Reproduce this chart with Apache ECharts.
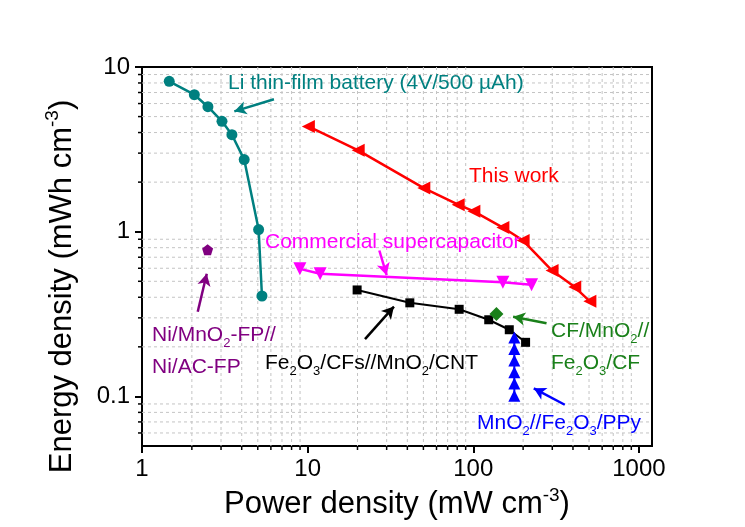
<!DOCTYPE html>
<html>
<head>
<meta charset="utf-8">
<script src="https://cdn.jsdelivr.net/npm/echarts@6/dist/echarts.min.js"></script>
<style>
html,body{margin:0;padding:0;background:#fff;}
#c{width:745px;height:527px;}
</style>
</head>
<body>
<div id="c"></div>
<script>
// ---- data (power density mW cm^-3, energy density mWh cm^-3) ----
const liBatteryP = [1.46, 2.07, 2.50, 3.04, 3.49, 4.14, 5.06, 5.30];
const liBatteryE = [8.19, 6.79, 5.74, 4.68, 3.88, 2.74, 1.03, 0.407];

const thisWorkP = [10.1, 20.2, 50.3, 81.1, 100.9, 151, 200, 299, 410, 506];
const thisWorkE = [4.36, 3.12, 1.84, 1.46, 1.33, 1.06, 0.884, 0.581, 0.461, 0.378];

const commercialP = [8.98, 11.9, 151, 225];
const commercialE = [0.595, 0.555, 0.493, 0.477];

const fe2o3CntP = [19.9, 41.4, 82.2, 124, 165, 207];
const fe2o3CntE = [0.443, 0.370, 0.338, 0.292, 0.254, 0.213];

const cfMnO2P = [138];
const cfMnO2E = [0.317];

const ppyP = [177, 177, 177, 177, 177, 177];
const ppyE = [0.228, 0.194, 0.165, 0.140, 0.120, 0.101];

const niFpP = [2.49];
const niFpE = [0.776];

const xMajorTicks = [1, 10, 100, 1000];
const yMajorTicks = [0.1, 1, 10];
const xMinorTicks = [2,3,4,5,6,7,8,9,20,30,40,50,60,70,80,90,200,300,400,500,600,700,800,900];
const yMinorTicks = [0.06,0.07,0.08,0.09,0.2,0.3,0.4,0.5,0.6,0.7,0.8,0.9,2,3,4,5,6,7,8,9];

// ---- helpers ----
const FONT = '"Liberation Sans", Arial, sans-serif';
const zip = (a, b) => a.map((v, i) => [v, b[i]]);

function richText(str) {
  // '_d' -> subscript digit
  let out = '';
  let buf = '';
  for (let i = 0; i < str.length; i++) {
    if (str[i] === '_') {
      if (buf) { out += '{a|' + buf + '}'; buf = ''; }
      out += '{s|' + str[i + 1] + '}';
      i++;
    } else buf += str[i];
  }
  if (buf) out += '{a|' + buf + '}';
  return out;
}

function annot(x, y, str, color) {
  return {
    type: 'text', x: x, y: y, z: 100, silent: true,
    style: {
      text: richText(str), fill: color, verticalAlign: 'middle', align: 'left',
      rich: {
        a: { fontSize: 21, fontFamily: FONT, fill: color, lineHeight: 30 },
        s: { fontSize: 13, fontFamily: FONT, fill: color, lineHeight: 13, verticalAlign: 'bottom' }
      }
    }
  };
}

function arrow(color, from, to) {
  return {
    silent: true, symbol: ['none', 'arrow'], symbolSize: [10, 12], animation: false,
    lineStyle: { color: color, width: 2.5, type: 'solid' },
    label: { show: false }, emphasis: { disabled: true },
    data: [[{ coord: from }, { coord: to }]]
  };
}

function lineSeries(name, P, E, color, symbol, size, rot, lw, extra) {
  return Object.assign({
    name: name, type: 'line', data: zip(P, E),
    symbol: symbol, symbolSize: size, symbolRotate: rot,
    showSymbol: true, z: 3,
    lineStyle: { color: color, width: lw },
    itemStyle: { color: color, borderWidth: 0 },
    emphasis: { disabled: true }
  }, extra || {});
}

const gridLineStyle = { stroke: '#c4c4c4', lineWidth: 1, lineDash: [3, 3] };

const chart = echarts.init(document.getElementById('c'), null, { renderer: 'canvas' });
chart.setOption({
  animation: false,
  backgroundColor: '#ffffff',
  grid: { left: 142, top: 67, width: 510, height: 379, show: true, borderColor: '#000', borderWidth: 2, backgroundColor: 'transparent' },
  xAxis: {
    type: 'log', logBase: 10, min: 1, max: 1200,
    axisLine: { show: true, lineStyle: { color: '#000', width: 2 } },
    axisTick: { show: true, inside: false, length: 7, lineStyle: { color: '#000', width: 2 }, customValues: xMajorTicks },
    axisLabel: { customValues: xMajorTicks, fontSize: 24, fontFamily: FONT, color: '#000', margin: 11, formatter: v => String(v) },
    splitLine: { show: false },
    name: '{a|Power density (mW cm}{s|-3}{a|)}',
    nameLocation: 'middle', nameGap: 31,
    nameTextStyle: { rich: {
      a: { fontSize: 31, fontFamily: FONT, color: '#000', lineHeight: 38 },
      s: { fontSize: 19, fontFamily: FONT, color: '#000', lineHeight: 19, verticalAlign: 'top' }
    } }
  },
  yAxis: {
    type: 'log', logBase: 10, min: 0.05, max: 10,
    axisLine: { show: true, lineStyle: { color: '#000', width: 2 } },
    axisTick: { show: true, inside: false, length: 7, lineStyle: { color: '#000', width: 2 }, customValues: yMajorTicks },
    axisLabel: { customValues: yMajorTicks, fontSize: 24, fontFamily: FONT, color: '#000', margin: 12, formatter: v => String(v) },
    splitLine: { show: false },
    name: '{a|Energy density (mWh cm}{s|-3}{a|)}{p| }',
    nameLocation: 'middle', nameGap: 61, nameRotate: 90,
    nameTextStyle: { rich: {
      a: { fontSize: 31, fontFamily: FONT, color: '#000', lineHeight: 38 },
      s: { fontSize: 19, fontFamily: FONT, color: '#000', lineHeight: 19, verticalAlign: 'top' },
      p: { fontSize: 10, width: 60, lineHeight: 10 }
    } }
  },
  series: [
    {
      type: 'custom', coordinateSystem: 'cartesian2d', silent: true, clip: false, z: 1,
      data: xMinorTicks.map(v => [v, 1]), encode: { x: 0, y: 1 },
      renderItem: function (params, api) {
        const cs = params.coordSys;
        const x = api.coord([api.value(0), 1])[0];
        const yb = cs.y + cs.height;
        return { type: 'group', children: [
          { type: 'line', shape: { x1: x, y1: cs.y, x2: x, y2: yb }, style: gridLineStyle },
          { type: 'line', shape: { x1: x, y1: yb, x2: x, y2: yb + 4 }, style: { stroke: '#000', lineWidth: 1.5 } }
        ] };
      }
    },
    {
      type: 'custom', coordinateSystem: 'cartesian2d', silent: true, clip: false, z: 1,
      data: yMinorTicks.map(v => [1, v]), encode: { x: 0, y: 1 },
      renderItem: function (params, api) {
        const cs = params.coordSys;
        const y = api.coord([1, api.value(1)])[1];
        return { type: 'group', children: [
          { type: 'line', shape: { x1: cs.x, y1: y, x2: cs.x + cs.width, y2: y }, style: gridLineStyle },
          { type: 'line', shape: { x1: cs.x - 4, y1: y, x2: cs.x, y2: y }, style: { stroke: '#000', lineWidth: 1.5 } }
        ] };
      }
    },
    lineSeries('Li thin-film battery', liBatteryP, liBatteryE, '#008080', 'circle', 11, 0, 2.5,
      { markLine: arrow('#008080', [6.26, 6.37], [3.61, 5.38]) }),
    lineSeries('This work', thisWorkP, thisWorkE, '#ff0000', 'triangle', 13, 90, 2.5),
    lineSeries('Commercial supercapacitor', commercialP, commercialE, '#ff00ff', 'triangle', 13, 180, 2.5,
      { markLine: arrow('#ff00ff', [27.1, 0.769], [30.0, 0.545]) }),
    lineSeries('Fe2O3/CFs//MnO2/CNT', fe2o3CntP, fe2o3CntE, '#000000', 'rect', 9, 0, 2,
      { markLine: arrow('#000000', [22.2, 0.223], [33.2, 0.351]) }),
    lineSeries('CF/MnO2//Fe2O3/CF', cfMnO2P, cfMnO2E, '#1a801a', 'diamond', 14, 0, 2,
      { markLine: arrow('#1a801a', [277, 0.278], [174, 0.305]) }),
    lineSeries('MnO2//Fe2O3/PPy', ppyP, ppyE, '#0000ff', 'triangle', 12, 0, 2,
      { markLine: arrow('#0000ff', [357, 0.089], [232, 0.112]) }),
    lineSeries('Ni/MnO2-FP//Ni/AC-FP', niFpP, niFpE, '#800080',
      'path://M0,-10 L9.51,-3.09 L5.88,8.09 L-5.88,8.09 L-9.51,-3.09 Z', 11, 0, 2,
      { markLine: arrow('#800080', [2.17, 0.327], [2.46, 0.555]) })
  ],
  graphic: [
    annot(228, 83, 'Li thin-film battery (4V/500 µAh)', '#008080'),
    annot(469, 176, 'This work', '#ff0000'),
    annot(265, 242, 'Commercial supercapacitor', '#ff00ff'),
    annot(152, 335, 'Ni/MnO_2-FP//', '#800080'),
    annot(152, 367, 'Ni/AC-FP', '#800080'),
    annot(265, 363, 'Fe_2O_3/CFs//MnO_2/CNT', '#000000'),
    annot(551, 331, 'CF/MnO_2//', '#1a801a'),
    annot(551, 363, 'Fe_2O_3/CF', '#1a801a'),
    annot(477, 423, 'MnO_2//Fe_2O_3/PPy', '#0000ff')
  ]
});
</script>
</body>
</html>
